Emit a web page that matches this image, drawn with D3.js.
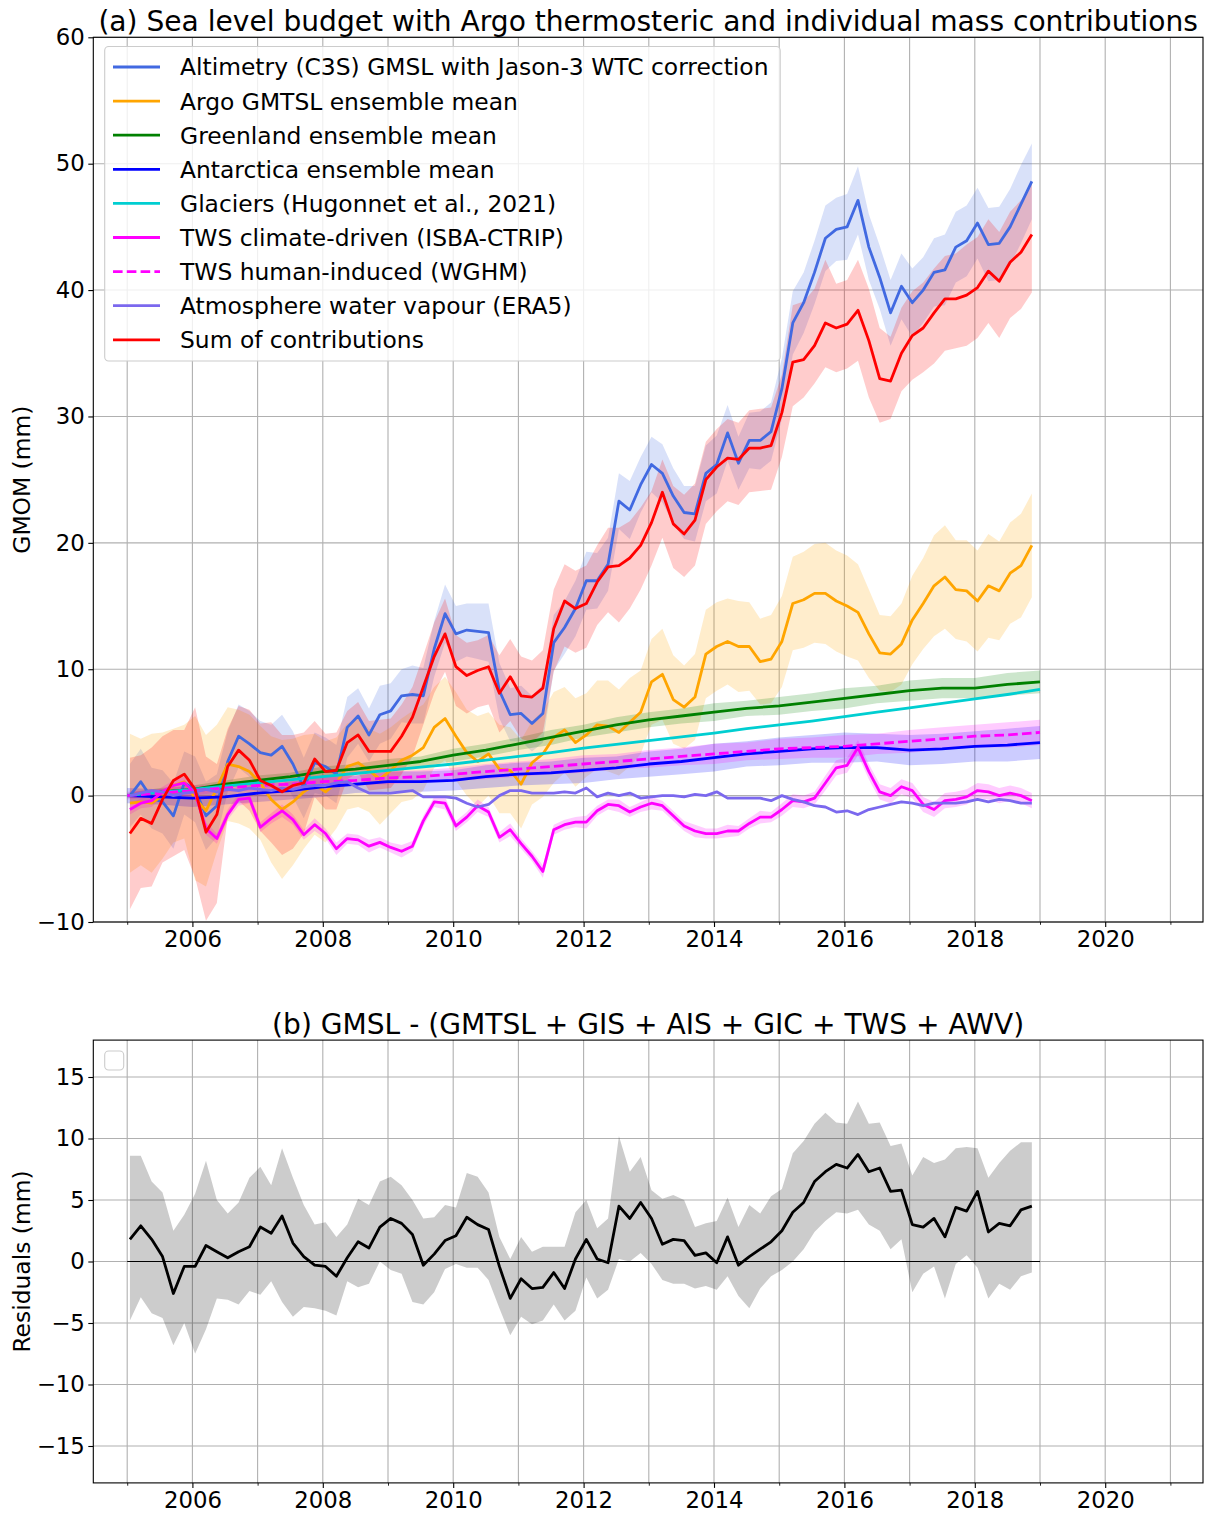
<!DOCTYPE html>
<html>
<head>
<meta charset="utf-8">
<script src="https://cdn.jsdelivr.net/npm/d3@7"></script>
<style>
  body { margin: 0; background: #ffffff; }
  svg text { font-family: "DejaVu Sans", sans-serif; fill: #000; }
</style>
</head>
<body>
<svg id="fig" width="1208" height="1513"></svg>
<script>
// ---------------------------------------------------------------------------
// Sea level budget components, 2005-2018 (mm). Bi-monthly samples.
// ---------------------------------------------------------------------------
const timeBimonthly = d3.range(84).map(i => 2005 + (2 * i + 0.5) / 12);
const timeHalfYear = d3.range(29).map(i => 2005 + i / 2);

const gmsl = [0.0, 1.1, -0.2, -0.5, -1.6, 1.0,
  0.5, -1.6, -0.8, 2.7, 4.7, 4.1,
  3.4, 3.2, 3.9, 2.5, 0.6, 2.6,
  2.3, 1.7, 5.4, 6.3, 4.8, 6.4,
  6.7, 7.9, 8.0, 7.9, 11.6, 14.4,
  12.8, 13.1, 13.0, 12.9, 8.3, 6.4,
  6.5, 5.7, 6.5, 12.1, 13.3, 14.8,
  17.0, 17.0, 18.3, 23.3, 22.6, 24.6,
  26.2, 25.5, 23.7, 22.4, 22.3, 25.5,
  26.2, 28.7, 26.3, 28.1, 28.1, 28.8,
  32.2, 37.4, 39.0, 41.4, 44.1, 44.8,
  45.0, 47.1, 43.4, 41.0, 38.2, 40.3,
  39.0, 40.0, 41.4, 41.6, 43.4, 43.9,
  45.3, 43.6, 43.7, 45.0, 46.8, 48.6];
const gmslErr = [2.5, 2.6, 2.4, 2.5, 2.6, 2.5,
  2.6, 2.7, 2.5, 2.4, 2.5, 2.6,
  2.5, 2.4, 2.5, 2.6, 2.4, 2.4,
  2.3, 2.3, 2.4, 2.2, 2.1, 2.3,
  2.2, 2.1, 2.3, 2.2, 2.2, 2.3,
  2.2, 2.1, 2.2, 2.3, 2.2, 2.1,
  2.2, 2.2, 2.3, 2.2, 2.1, 2.2,
  2.3, 2.2, 2.1, 2.2, 2.3, 2.2,
  2.2, 2.3, 2.2, 2.1, 2.2, 2.2,
  2.3, 2.2, 2.1, 2.2, 2.3, 2.3,
  2.4, 2.5, 2.4, 2.5, 2.6, 2.5,
  2.6, 2.7, 2.6, 2.5, 2.6, 2.6,
  2.7, 2.6, 2.7, 2.8, 2.8, 2.8,
  2.8, 2.9, 2.9, 3.0, 3.1, 3.0];

const argo = [-0.6, -0.5, -0.6, 0.0, 0.8, 1.1,
  -0.2, -1.2, 0.6, 2.5, 2.3, 1.9,
  1.0, -0.3, -1.1, -0.5, 0.3, 0.9,
  0.3, 1.0, 2.3, 2.6, 2.0, 1.3,
  2.0, 2.8, 3.2, 3.8, 5.4, 6.1,
  4.7, 3.4, 2.7, 3.3, 2.1, 2.0,
  0.9, 2.6, 3.3, 4.6, 5.2, 4.2,
  4.8, 5.6, 5.5, 5.0, 5.8, 6.6,
  9.0, 9.6, 7.6, 7.0, 7.8, 11.2,
  11.8, 12.2, 11.8, 11.8, 10.6, 10.8,
  12.2, 15.2, 15.5, 16.0, 16.0, 15.4,
  15.0, 14.5, 12.8, 11.3, 11.2, 12.0,
  13.9, 15.2, 16.6, 17.3, 16.3, 16.2,
  15.4, 16.6, 16.2, 17.6, 18.2, 19.8];
const argoErr = [5.5, 5.0, 5.5, 5.0, 4.5, 4.5,
  6.5, 6.0, 5.0, 4.5, 4.5, 4.5,
  4.5, 5.0, 5.5, 5.0, 4.5, 4.0,
  4.0, 3.6, 3.4, 3.5, 3.3, 3.6,
  3.4, 3.3, 3.5, 3.4, 3.2, 3.3,
  3.5, 3.4, 3.6, 3.3, 3.5, 3.4,
  3.5, 3.3, 3.4, 3.6, 3.4, 3.5,
  3.3, 3.5, 3.6, 3.4, 3.5, 3.3,
  3.4, 3.6, 3.5, 3.3, 3.4, 3.5,
  3.5, 3.4, 3.6, 3.5, 3.4, 3.5,
  3.6, 3.7, 3.8, 3.9, 4.0, 4.0,
  4.0, 3.8, 3.5, 3.0, 3.0, 3.2,
  3.5, 3.6, 4.0, 4.1, 3.9, 4.0,
  4.0, 4.1, 3.9, 4.0, 4.1, 4.1];

const greenland = [0.0, 0.3, 0.5, 0.9, 1.2, 1.5, 1.9, 2.1, 2.4, 2.7, 3.2, 3.6, 4.1, 4.6,
  5.1, 5.6, 6.0, 6.3, 6.6, 6.9, 7.1, 7.4, 7.7, 8.0, 8.3, 8.5, 8.5, 8.8, 9.0];
const greenlandErr = [0.2, 0.3, 0.3, 0.3, 0.4, 0.3, 0.4, 0.4, 0.5, 0.4, 0.5, 0.5, 0.5, 0.6,
  0.5, 0.6, 0.6, 0.6, 0.7, 0.6, 0.7, 0.7, 0.8, 0.7, 0.8, 0.8, 0.8, 0.9, 0.9];

const antarctica = [0.0, -0.1, -0.2, -0.1, 0.2, 0.4, 0.7, 0.9, 1.1, 1.1, 1.2, 1.5, 1.7, 1.8,
  2.0, 2.2, 2.5, 2.7, 3.0, 3.3, 3.5, 3.7, 3.8, 3.8, 3.6, 3.7, 3.9, 4.0, 4.2];
const antarcticaErr = [0.6, 0.6, 0.7, 0.6, 0.7, 0.7, 0.8, 0.7, 0.8, 0.8, 0.8, 0.9, 0.9, 0.9,
  1.0, 0.9, 1.0, 1.0, 1.1, 1.0, 1.1, 1.1, 1.2, 1.1, 1.2, 1.2, 1.2, 1.3, 1.3];

const glaciers = [0.0, 0.25, 0.5, 0.75, 1.0, 1.25, 1.5, 1.75, 2.0, 2.25, 2.5, 2.8, 3.1, 3.4,
  3.75, 4.05, 4.35, 4.65, 4.95, 5.3, 5.6, 5.9, 6.25, 6.6, 6.95, 7.3, 7.65, 8.0, 8.4];

const twsClimate = [-1.1, -0.6, -0.4, 0.3, 0.8, 1.0,
  0.2, -2.6, -3.4, -1.5, -0.3, -0.2,
  -2.5, -1.8, -1.2, -1.9, -3.1, -2.3,
  -3.0, -4.2, -3.4, -3.5, -4.0, -3.7,
  -4.1, -4.4, -4.0, -2.0, -0.5, -0.6,
  -2.4, -1.7, -0.8, -1.3, -3.3, -2.7,
  -3.8, -4.8, -6.0, -2.7, -2.3, -2.1,
  -2.1, -1.2, -0.7, -0.8, -1.3, -0.9,
  -0.6, -0.8, -1.6, -2.4, -2.8, -3.0,
  -3.0, -2.8, -2.8, -2.2, -1.7, -1.7,
  -1.1, -0.4, -0.5, -0.2, 1.0, 2.2,
  2.4, 3.8, 1.9, 0.3, 0.0, 0.7,
  0.4, -0.7, -1.1, -0.4, -0.3, -0.1,
  0.4, 0.3, 0.0, 0.2, 0.0, -0.4];
const twsClimateErr = [0.4, 0.4, 0.5, 0.4, 0.4, 0.5,
  0.4, 0.5, 0.4, 0.4, 0.5, 0.4,
  0.4, 0.4, 0.5, 0.4, 0.4, 0.5,
  0.4, 0.5, 0.4, 0.4, 0.5, 0.4,
  0.4, 0.5, 0.4, 0.4, 0.4, 0.5,
  0.4, 0.4, 0.5, 0.4, 0.4, 0.5,
  0.4, 0.4, 0.5, 0.4, 0.4, 0.4,
  0.5, 0.4, 0.4, 0.5, 0.4, 0.4,
  0.5, 0.4, 0.4, 0.4, 0.5, 0.4,
  0.4, 0.5, 0.4, 0.4, 0.5, 0.4,
  0.5, 0.5, 0.5, 0.5, 0.6, 0.6,
  0.6, 0.6, 0.6, 0.6, 0.6, 0.6,
  0.6, 0.6, 0.6, 0.6, 0.6, 0.6,
  0.6, 0.6, 0.6, 0.6, 0.6, 0.6];

const twsHuman = [0.0, 0.2, 0.4, 0.6, 0.8, 0.9, 1.1, 1.2, 1.4, 1.5, 1.7, 1.9, 2.1, 2.3,
  2.5, 2.7, 2.9, 3.1, 3.3, 3.5, 3.7, 3.8, 3.9, 4.1, 4.3, 4.5, 4.7, 4.8, 5.0];
const twsHumanErr = [0.3, 0.3, 0.4, 0.3, 0.4, 0.4, 0.5, 0.4, 0.5, 0.5, 0.5, 0.6, 0.6, 0.6,
  0.7, 0.6, 0.7, 0.7, 0.8, 0.7, 0.8, 0.8, 0.9, 0.8, 0.9, 0.9, 0.9, 1.0, 1.0];

const awv = [0.0, 0.2, 0.4, 0.3, 0.0, 0.2,
  0.3, 0.5, 0.3, 0.5, 0.4, 0.6,
  0.5, 0.4, 0.6, 0.5, 0.7, 0.8,
  0.8, 1.0, 1.1, 0.6, 0.2, 0.2,
  0.2, 0.3, 0.4, -0.1, -0.1, -0.1,
  -0.2, -0.6, -0.9, -0.7, 0.0, 0.4,
  0.4, 0.2, 0.2, 0.2, 0.3, 0.2,
  0.6, -0.1, 0.2, 0.0, 0.2, -0.2,
  -0.1, 0.0, 0.0, -0.1, 0.1, 0.0,
  0.3, -0.2, -0.2, -0.2, -0.2, -0.4,
  0.0, -0.3, -0.5, -0.8, -0.9, -1.3,
  -1.2, -1.5, -1.1, -0.9, -0.7, -0.5,
  -0.6, -0.8, -0.6, -0.6, -0.6, -0.5,
  -0.3, -0.5, -0.3, -0.4, -0.6, -0.6];

const sumContrib = [-3.0, -1.8, -2.2, -0.3, 1.2, 1.7,
  0.5, -2.9, -1.5, 2.3, 3.6, 2.8,
  1.2, 0.8, 0.3, 0.8, 1.0, 2.9,
  1.9, 2.0, 4.2, 4.8, 3.5, 3.5,
  3.5, 4.7, 6.2, 8.6, 11.0, 12.8,
  10.2, 9.5, 9.9, 10.2, 8.1, 9.4,
  7.9, 7.8, 8.5, 13.2, 15.4, 14.8,
  15.2, 16.9, 18.1, 18.2, 18.8, 19.8,
  21.6, 24.0, 21.5, 20.7, 21.8, 25.0,
  26.0, 26.7, 26.6, 27.5, 27.5, 27.7,
  30.3, 34.3, 34.5, 35.6, 37.4, 37.0,
  37.3, 38.4, 36.0, 33.0, 32.8, 35.0,
  36.4, 37.0, 38.2, 39.3, 39.3, 39.6,
  40.2, 41.5, 40.7, 42.2, 43.0, 44.4];
const sumErrUp = [6.0, 5.0, 6.0, 5.0, 4.0, 3.5,
  6.5, 6.0, 4.0, 3.0, 3.5, 4.0,
  4.5, 5.0, 4.5, 4.0, 4.0, 3.0,
  3.0, 3.0, 2.5, 2.6, 2.4, 2.5,
  2.6, 2.5, 2.4, 2.5, 2.7, 2.8,
  2.5, 2.6, 2.4, 2.5, 3.0, 3.0,
  3.1, 2.9, 3.0, 3.1, 2.9, 3.0,
  3.0, 2.9, 3.1, 3.0, 2.9, 3.0,
  2.5, 2.6, 3.0, 3.1, 2.9, 3.0,
  3.0, 3.1, 2.9, 3.0, 3.1, 3.0,
  3.0, 4.5, 4.6, 4.5, 5.0, 3.5,
  3.5, 4.0, 4.1, 4.0, 3.5, 3.6,
  3.5, 3.6, 3.5, 3.4, 3.6, 4.0,
  4.0, 4.1, 3.9, 4.0, 4.1, 4.0];
const sumErrDown = [6.0, 5.5, 5.0, 5.0, 6.0, 6.0,
  7.0, 7.0, 7.0, 4.0, 4.0, 4.0,
  4.0, 4.5, 5.0, 5.0, 4.0, 3.0,
  3.0, 3.1, 2.9, 3.0, 3.1, 3.0,
  2.9, 3.0, 3.1, 3.0, 2.9, 3.0,
  3.1, 3.0, 2.9, 3.0, 3.1, 3.5,
  3.4, 3.6, 3.5, 3.4, 3.6, 3.5,
  3.5, 3.4, 3.6, 4.5, 4.0, 3.5,
  3.4, 3.6, 3.5, 3.4, 3.6, 3.5,
  3.5, 3.4, 3.6, 3.5, 3.4, 3.5,
  3.5, 3.5, 3.0, 3.0, 3.5, 3.5,
  3.5, 4.0, 4.5, 3.5, 3.0, 3.0,
  3.5, 3.5, 4.0, 4.1, 3.9, 4.0,
  4.0, 4.1, 4.5, 4.4, 4.5, 4.6];

// Residual: GMSL minus the sum of the contributions, with its uncertainty envelope
const residual = [1.8, 2.9, 1.8, 0.4, -2.6, -0.4,
  -0.4, 1.3, 0.8, 0.3, 0.8, 1.2,
  2.8, 2.3, 3.7, 1.5, 0.4, -0.3,
  -0.4, -1.2, 0.3, 1.6, 1.1, 2.8,
  3.5, 3.1, 2.2, -0.3, 0.6, 1.7,
  2.1, 3.6, 3.0, 2.6, -0.4, -3.0,
  -1.4, -2.2, -2.1, -0.9, -2.2, 0.2,
  1.8, 0.2, -0.1, 4.5, 3.5, 4.8,
  3.5, 1.4, 1.8, 1.7, 0.5, 0.7,
  -0.1, 2.0, -0.3, 0.4, 1.0, 1.6,
  2.5, 4.0, 4.8, 6.5, 7.3, 7.9,
  7.6, 8.7, 7.3, 7.6, 5.7, 5.8,
  3.0, 2.8, 3.5, 2.0, 4.4, 4.1,
  5.7, 2.4, 3.1, 2.9, 4.2, 4.5];
const residualHigh = [8.6, 8.6, 6.5, 5.6, 2.5, 3.8,
  5.5, 8.2, 5.0, 3.9, 4.8, 6.8,
  7.7, 6.2, 9.2, 6.8, 4.6, 3.0,
  3.2, 2.0, 3.0, 5.1, 4.6, 6.5,
  6.9, 6.2, 5.0, 3.5, 3.6, 4.6,
  4.4, 7.2, 6.9, 5.6, 2.0, 0.2,
  2.0, 0.8, 1.2, 1.2, 1.2, 4.0,
  5.0, 2.7, 3.5, 10.2, 7.3, 8.5,
  5.8, 5.1, 5.4, 5.0, 2.8, 3.1,
  3.3, 5.2, 2.8, 4.6, 3.9, 5.3,
  5.9, 8.8, 9.8, 11.2, 12.1, 11.3,
  11.2, 13.0, 11.2, 11.3, 9.4, 9.6,
  7.0, 8.5, 8.0, 8.3, 9.2, 9.3,
  9.2, 6.8, 8.0, 9.0, 9.7, 9.7];
const residualLow = [-4.8, -2.9, -4.2, -4.6, -6.8, -5.0,
  -7.5, -5.5, -3.0, -3.1, -3.5, -2.4,
  -2.7, -1.6, -3.3, -4.5, -3.7, -3.8,
  -4.0, -4.4, -1.6, -2.1, -1.8, 0.0,
  -0.7, -1.0, -3.3, -3.5, -2.5, -0.6,
  -0.2, -0.5, -0.5, -1.5, -3.8, -6.0,
  -4.5, -5.1, -4.8, -3.5, -4.8, -4.0,
  -1.3, -3.0, -2.3, 0.2, 0.0, 0.7,
  -0.2, -1.5, -1.8, -1.8, -2.2, -2.0,
  -2.3, -1.2, -2.8, -3.8, -2.2, -1.2,
  -0.7, 0.0, 1.0, 2.4, 3.3, 4.0,
  3.9, 4.2, 3.0, 2.5, 1.0, 1.8,
  -2.5, -1.0, -0.4, -3.0, -0.2, 0.5,
  -0.5, -3.0, -1.8, -2.3, -1.2, -0.9];

// Axis ticks
const yearTicksMajor = [2006, 2008, 2010, 2012, 2014, 2016, 2018, 2020];
const yearTicksMinor = [2005, 2007, 2009, 2011, 2013, 2015, 2017, 2019, 2021];
const yTicksA = [-10, 0, 10, 20, 30, 40, 50, 60];
const yTicksB = [-15, -10, -5, 0, 5, 10, 15];

// Legend entries of panel (a)
const legendLabels = [
  "Altimetry (C3S) GMSL with Jason-3 WTC correction",
  "Argo GMTSL ensemble mean",
  "Greenland ensemble mean",
  "Antarctica ensemble mean",
  "Glaciers (Hugonnet et al., 2021)",
  "TWS climate-driven (ISBA-CTRIP)",
  "TWS human-induced (WGHM)",
  "Atmosphere water vapour (ERA5)",
  "Sum of contributions"
];

// ---------------------------------------------------------------------------
// Drawing
// ---------------------------------------------------------------------------
const C = {
  gmsl: "#4169e1", argo: "#ffa500", greenland: "#008000", antarctica: "#0000ff",
  glaciers: "#00ced1", tws: "#ff00ff", awv: "#7b68ee", sum: "#ff0000"
};
const FONT_TICK = 22.8, FONT_LABEL = 23.4, FONT_TITLE = 28.1, LW = 2.8;

const svg = d3.select("#fig");
const xDomain = [2004.48, 2021.5];
const pA = { left: 93.3, right: 1203, top: 37.3, bottom: 922 };
const pB = { left: 93.3, right: 1203, top: 1040.1, bottom: 1482.9 };

const xA = d3.scaleLinear().domain(xDomain).range([pA.left, pA.right]);
const yA = d3.scaleLinear().domain([-10, 60]).range([pA.bottom, pA.top]);
const xB = d3.scaleLinear().domain(xDomain).range([pB.left, pB.right]);
const yB = d3.scaleLinear().domain([-18, 18]).range([pB.bottom, pB.top]);

function drawFrame(p, x, y, yTicks, clipId) {
  const g = svg.append("g");
  // grid, every year and every y tick
  d3.range(2005, 2022).forEach(yr => {
    g.append("line").attr("x1", x(yr)).attr("x2", x(yr))
      .attr("y1", p.top).attr("y2", p.bottom)
      .attr("stroke", "#b0b0b0").attr("stroke-width", 1.1);
  });
  yTicks.forEach(v => {
    g.append("line").attr("x1", p.left).attr("x2", p.right)
      .attr("y1", y(v)).attr("y2", y(v))
      .attr("stroke", "#b0b0b0").attr("stroke-width", 1.1);
  });
  svg.append("clipPath").attr("id", clipId).append("rect")
    .attr("x", p.left).attr("y", p.top)
    .attr("width", p.right - p.left).attr("height", p.bottom - p.top);
}

function drawAxes(p, x, y, yTicks) {
  const gx = svg.append("g").attr("transform", `translate(0,${p.bottom})`)
    .call(d3.axisBottom(x).tickValues(yearTicksMajor).tickFormat(d3.format("d"))
      .tickSize(5).tickSizeOuter(0).tickPadding(3.5));
  gx.select(".domain").remove();
  gx.selectAll("text").attr("font-size", FONT_TICK).attr("font-family", "DejaVu Sans");
  gx.selectAll("line").attr("stroke-width", 1.1);
  const gm = svg.append("g").attr("transform", `translate(0,${p.bottom})`)
    .call(d3.axisBottom(x).tickValues(yearTicksMinor).tickFormat("")
      .tickSize(2.8).tickSizeOuter(0));
  gm.select(".domain").remove();
  gm.selectAll("line").attr("stroke-width", 0.85);

  const gy = svg.append("g").attr("transform", `translate(${p.left},0)`)
    .call(d3.axisLeft(y).tickValues(yTicks).tickFormat(d3.format("d"))
      .tickSize(5).tickSizeOuter(0).tickPadding(3.5));
  gy.select(".domain").remove();
  gy.selectAll("text").attr("font-size", FONT_TICK).attr("font-family", "DejaVu Sans");
  gy.selectAll("line").attr("stroke-width", 1.1);

  svg.append("rect").attr("x", p.left).attr("y", p.top)
    .attr("width", p.right - p.left).attr("height", p.bottom - p.top)
    .attr("fill", "none").attr("stroke", "#000").attr("stroke-width", 1.1);
}

function band(g, x, y, t, lo, hi, color, opacity) {
  const idx = d3.range(t.length);
  g.append("path")
    .attr("d", d3.area().x(i => x(t[i])).y0(i => y(lo[i])).y1(i => y(hi[i]))(idx))
    .attr("fill", color).attr("fill-opacity", opacity).attr("stroke", "none");
}
function line(g, x, y, t, v, color, width, dash) {
  const idx = d3.range(t.length);
  g.append("path")
    .attr("d", d3.line().x(i => x(t[i])).y(i => y(v[i]))(idx))
    .attr("fill", "none").attr("stroke", color).attr("stroke-width", width)
    .attr("stroke-linejoin", "round").attr("stroke-linecap", "butt")
    .attr("stroke-dasharray", dash || null);
}
const plus = (a, b) => a.map((v, i) => v + b[i]);
const minus = (a, b) => a.map((v, i) => v - b[i]);

// ---------------- Panel (a) ----------------
drawFrame(pA, xA, yA, yTicksA, "clipA");
const gA = svg.append("g").attr("clip-path", "url(#clipA)");
const tb = timeBimonthly, th = timeHalfYear;

band(gA, xA, yA, tb, minus(gmsl, gmslErr), plus(gmsl, gmslErr), C.gmsl, 0.2);
band(gA, xA, yA, tb, minus(argo, argoErr), plus(argo, argoErr), C.argo, 0.2);
band(gA, xA, yA, th, minus(greenland, greenlandErr), plus(greenland, greenlandErr), C.greenland, 0.2);
band(gA, xA, yA, th, minus(antarctica, antarcticaErr), plus(antarctica, antarcticaErr), C.antarctica, 0.2);
band(gA, xA, yA, tb, minus(twsClimate, twsClimateErr), plus(twsClimate, twsClimateErr), C.tws, 0.2);
band(gA, xA, yA, th, minus(twsHuman, twsHumanErr), plus(twsHuman, twsHumanErr), C.tws, 0.2);
band(gA, xA, yA, tb, minus(sumContrib, sumErrDown), plus(sumContrib, sumErrUp), C.sum, 0.2);

line(gA, xA, yA, tb, gmsl, C.gmsl, LW);
line(gA, xA, yA, tb, argo, C.argo, LW);
line(gA, xA, yA, th, greenland, C.greenland, LW);
line(gA, xA, yA, th, antarctica, C.antarctica, LW);
line(gA, xA, yA, th, glaciers, C.glaciers, LW);
line(gA, xA, yA, tb, twsClimate, C.tws, LW);
line(gA, xA, yA, th, twsHuman, C.tws, LW, "9.6,4.2");
line(gA, xA, yA, tb, awv, C.awv, LW);
line(gA, xA, yA, tb, sumContrib, C.sum, LW);

drawAxes(pA, xA, yA, yTicksA);

svg.append("text").attr("x", (pA.left + pA.right) / 2).attr("y", 30.5)
  .attr("text-anchor", "middle").attr("font-size", FONT_TITLE)
  .text("(a) Sea level budget with Argo thermosteric and individual mass contributions");
svg.append("text").attr("transform", `translate(29.5,${(pA.top + pA.bottom) / 2}) rotate(-90)`)
  .attr("text-anchor", "middle").attr("font-size", FONT_LABEL).text("GMOM (mm)");

// legend
const legendStyles = [
  { c: C.gmsl }, { c: C.argo }, { c: C.greenland }, { c: C.antarctica }, { c: C.glaciers },
  { c: C.tws }, { c: C.tws, dash: "9.6,4.2" }, { c: C.awv }, { c: C.sum }
];
const lg = svg.append("g");
lg.append("rect").attr("x", 104.7).attr("y", 46.5).attr("width", 675.5).attr("height", 314.5)
  .attr("rx", 4).attr("fill", "#fff").attr("fill-opacity", 0.8)
  .attr("stroke", "#cccccc").attr("stroke-width", 1.1);
legendLabels.forEach((lab, k) => {
  const cy = 67 + k * 34.1;
  lg.append("line").attr("x1", 113).attr("x2", 160).attr("y1", cy).attr("y2", cy)
    .attr("stroke", legendStyles[k].c).attr("stroke-width", LW)
    .attr("stroke-dasharray", legendStyles[k].dash || null);
  lg.append("text").attr("x", 180).attr("y", cy).attr("dy", "0.36em")
    .attr("font-size", FONT_LABEL).text(lab);
});

// ---------------- Panel (b) ----------------
drawFrame(pB, xB, yB, yTicksB, "clipB");
const gB = svg.append("g").attr("clip-path", "url(#clipB)");
band(gB, xB, yB, tb, residualLow, residualHigh, "#000000", 0.2);
gB.append("line").attr("x1", xB(2005)).attr("x2", xB(2019))
  .attr("y1", yB(0)).attr("y2", yB(0)).attr("stroke", "#000").attr("stroke-width", 1.1);
line(gB, xB, yB, tb, residual, "#000000", LW);
drawAxes(pB, xB, yB, yTicksB);

// empty legend frame
svg.append("rect").attr("x", 104.7).attr("y", 1051).attr("width", 19).attr("height", 19)
  .attr("rx", 4).attr("fill", "#fff").attr("fill-opacity", 0.8)
  .attr("stroke", "#cccccc").attr("stroke-width", 1.1);

svg.append("text").attr("x", (pB.left + pB.right) / 2).attr("y", 1033.5)
  .attr("text-anchor", "middle").attr("font-size", FONT_TITLE)
  .text("(b) GMSL - (GMTSL + GIS + AIS + GIC + TWS + AWV)");
svg.append("text").attr("transform", `translate(29.5,${(pB.top + pB.bottom) / 2}) rotate(-90)`)
  .attr("text-anchor", "middle").attr("font-size", FONT_LABEL).text("Residuals (mm)");
</script>
</body>
</html>
